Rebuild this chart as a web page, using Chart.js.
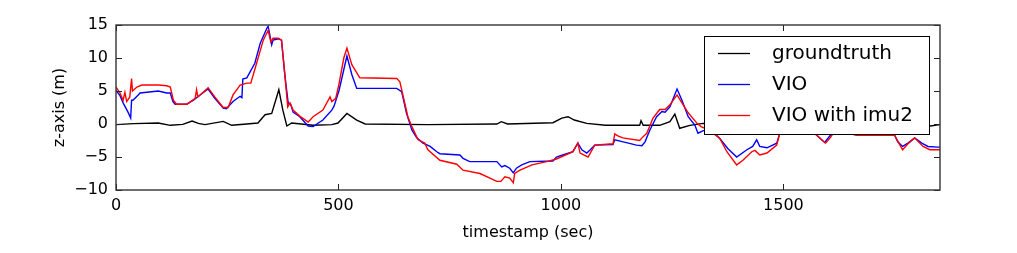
<!DOCTYPE html>
<html>
<head>
<meta charset="utf-8">
<script src="https://cdn.jsdelivr.net/npm/chart.js@4.4.1/dist/chart.umd.min.js"></script>
<style>
  html, body { margin: 0; padding: 0; background: #fff; }
  #plot { display: block; }
</style>
</head>
<body>
<canvas id="plot" width="1017" height="253"></canvas>
<script>
// z-axis traces (time in sec, z in m)
const gtT = [0, 40, 95, 122, 150, 171, 185, 200, 241, 260, 294, 319, 335, 350, 366, 375, 384, 395, 443, 485,
  499, 519, 541, 560, 700, 856, 866, 880, 982, 1002, 1016, 1030, 1058, 1100, 1177, 1180, 1185, 1222, 1245, 1256,
  1267, 1290, 1319, 1400, 1600, 1830, 1852];
const gtZ = [-0.1, 0.05, 0.15, -0.2, -0.05, 0.45, 0.1, -0.1, 0.4, -0.2, 0, 0.15, 1.4, 1.6, 5.2, 2.1, -0.3, 0.15, -0.2, -0.1,
  0.15, 1.6, 0.6, 0, -0.1, 0, 0.35, 0, 0.2, 0.9, 1.1, 0.6, 0.1, -0.2, -0.2, 0.5, -0.2, -0.2, 0.35, 1.5,
  -0.65, -0.2, 0.1, 0, 0, -0.3, -0.1];

const vioT = [0, 9, 16, 27, 33, 35, 38, 50, 54, 95, 114, 122, 128, 133, 159, 174, 189, 207, 222, 241,
  248, 263, 279, 283, 285, 294, 312, 324, 339, 342, 350, 353, 365, 372, 380, 387, 393, 398, 413, 432,
  443, 465, 485, 490, 501, 519, 530, 541, 548, 631, 642, 653, 665, 676, 690, 706, 721, 728, 773, 780,
  795, 856, 867, 874, 885, 893, 900, 912, 930, 982, 990, 1004, 1027, 1038, 1047, 1058, 1066, 1076, 1117, 1121,
  1133, 1170, 1182, 1189, 1200, 1215, 1227, 1234, 1245, 1261, 1272, 1286, 1301, 1308, 1320, 1340, 1357, 1375, 1395, 1418,
  1431, 1440, 1447, 1463, 1485, 1492, 1510, 1540, 1560, 1575, 1586, 1593, 1609, 1630, 1667, 1750, 1757, 1768, 1780, 1795,
  1811, 1825, 1847, 1852];
const vioZ = [5.1, 4.3, 3.2, 1.8, 0.9, 3.6, 3.6, 4.4, 4.7, 5.0, 4.7, 4.7, 3.4, 3.0, 3.0, 3.6, 4.4, 5.3, 3.9, 2.4,
  2.3, 3.4, 4.2, 4.0, 6.8, 7.0, 9.2, 12.2, 14.5, 14.8, 12.0, 12.7, 12.9, 12.7, 7.1, 3.2, 2.9, 1.8, 1.1, -0.3,
  -0.4, 0.6, 2.1, 2.7, 5.0, 10.3, 7.5, 5.4, 5.4, 5.4, 4.9, 1.6, -0.9, -2.1, -2.9, -3.4, -4.2, -4.5, -4.7, -5.2,
  -5.7, -5.7, -6.5, -6.3, -6.7, -7.4, -6.7, -6.2, -5.7, -5.6, -5.0, -4.7, -4.2, -2.9, -3.9, -4.4, -3.9, -3.2, -3.1, -2.4,
  -2.6, -3.2, -3.3, -2.7, -0.9, 1.1, 1.9, 1.8, 2.6, 5.3, 3.6, 1.1, -0.15, -1.4, -1.0, -1.0, -2.2, -3.7, -5.0, -3.9,
  -3.4, -2.4, -3.4, -3.6, -2.9, -1.4, -0.8, -0.5, -0.9, -1.7, -2.4, -2.8, -1.4, -1.2, -1.7, -1.7, -2.7, -3.4, -2.9, -2.1,
  -2.9, -3.4, -3.5, -3.5];

const imuT = [0, 9, 16, 20, 24, 31, 35, 37, 47, 58, 95, 114, 122, 129, 136, 159, 178, 181, 184, 207,
  222, 241, 252, 263, 279, 294, 303, 316, 331, 342, 348, 353, 365, 372, 380, 386, 391, 398, 413, 432,
  443, 465, 481, 485, 494, 501, 512, 519, 530, 548, 631, 638, 656, 665, 679, 694, 701, 728, 766, 780,
  818, 856, 865, 874, 885, 893, 896, 908, 935, 968, 990, 1027, 1038, 1043, 1061, 1076, 1117, 1121, 1128, 1139,
  1177, 1182, 1193, 1207, 1222, 1234, 1245, 1261, 1272, 1286, 1306, 1315, 1335, 1357, 1373, 1395, 1409, 1429, 1436, 1447,
  1463, 1485, 1492, 1510, 1540, 1560, 1575, 1586, 1595, 1605, 1612, 1630, 1667, 1750, 1762, 1768, 1780, 1795, 1814, 1829,
  1847, 1852];
const imuZ = [5.6, 4.7, 3.6, 4.8, 3.4, 4.1, 6.9, 5.0, 5.6, 5.9, 5.9, 5.8, 5.6, 3.6, 3.0, 3.0, 3.9, 5.2, 4.1, 5.5,
  4.1, 2.5, 2.5, 4.4, 5.9, 6.2, 6.2, 9.2, 12.7, 14.2, 12.4, 13.0, 13.0, 12.7, 7.1, 2.6, 3.2, 2.1, 1.2, 0.3,
  1.1, 2.1, 4.1, 3.4, 3.9, 6.0, 10.0, 11.5, 9.0, 7.0, 6.9, 6.4, 1.1, -0.4, -2.4, -2.9, -3.9, -5.5, -6.1, -7.0,
  -7.5, -8.7, -8.7, -8.0, -8.2, -8.9, -7.5, -7.0, -6.2, -5.7, -5.3, -4.2, -2.9, -4.4, -5.0, -3.2, -3.0, -1.5, -1.8, -2.1,
  -2.5, -2.1, -1.4, 0.9, 2.2, 2.2, 2.9, 4.4, 3.2, 1.7, 0.1, -0.4, -1.0, -2.2, -4.2, -6.2, -5.5, -4.2, -4.0, -4.7,
  -4.4, -3.2, -1.4, -0.8, -0.5, -0.9, -1.7, -2.4, -2.9, -2.1, -1.4, -1.2, -1.7, -1.7, -3.2, -3.9, -3.0, -2.1, -3.4, -3.9,
  -3.9, -3.9];

const labels = ['groundtruth', 'VIO', 'VIO with imu2'];
const xTicks = [0, 500, 1000, 1500];
const yTicks = [-10, -5, 0, 5, 10, 15];

const pts = (t, z) => t.map((x, i) => ({ x, y: z[i] }));

Chart.defaults.font.family = "'DejaVu Sans', sans-serif";
Chart.defaults.color = '#000';

// matplotlib-ish frame with inward ticks on all four sides
const frame = {
  id: 'frame',
  afterDatasetsDraw(chart) {
    const { ctx, chartArea: a, scales: { x, y } } = chart;
    ctx.save();
    ctx.strokeStyle = '#222';
    ctx.lineWidth = 1;
    ctx.beginPath();
    xTicks.forEach(v => {
      const px = Math.round(x.getPixelForValue(v)) + 0.5;
      ctx.moveTo(px, a.bottom); ctx.lineTo(px, a.bottom - 6);
      ctx.moveTo(px, a.top); ctx.lineTo(px, a.top + 6);
    });
    yTicks.forEach(v => {
      const py = Math.round(y.getPixelForValue(v)) + 0.5;
      ctx.moveTo(a.left, py); ctx.lineTo(a.left + 6, py);
      ctx.moveTo(a.right, py); ctx.lineTo(a.right - 6, py);
    });
    ctx.stroke();
    ctx.lineWidth = 1.4;
    ctx.strokeStyle = '#333';
    ctx.strokeRect(a.left, a.top, a.right - a.left, a.bottom - a.top);
    ctx.restore();
  }
};

// legend box in the upper right, like the original
const legendBox = {
  id: 'legendBox',
  afterDraw(chart) {
    const { ctx } = chart;
    const bx = 704.5, by = 36.5, bw = 225, bh = 98;
    ctx.save();
    ctx.fillStyle = '#fff';
    ctx.fillRect(bx, by, bw, bh);
    ctx.strokeStyle = '#000';
    ctx.lineWidth = 1;
    ctx.strokeRect(bx, by, bw, bh);
    ctx.font = "20px 'DejaVu Sans'";
    ctx.textBaseline = 'middle';
    chart.data.datasets.forEach((ds, i) => {
      const ry = 53 + i * 31;
      ctx.strokeStyle = ds.borderColor;
      ctx.lineWidth = 1.3;
      ctx.beginPath();
      ctx.moveTo(718, ry + 0.5);
      ctx.lineTo(750, ry + 0.5);
      ctx.stroke();
      ctx.fillStyle = '#000';
      ctx.fillText(ds.label, 772, ry + 1);
    });
    ctx.restore();
  }
};

new Chart(document.getElementById('plot'), {
  type: 'line',
  data: {
    datasets: [
      { label: labels[0], data: pts(gtT, gtZ), borderColor: '#000000', borderWidth: 1.4, pointRadius: 0, tension: 0, order: 3 },
      { label: labels[1], data: pts(vioT, vioZ), borderColor: '#0000ff', borderWidth: 1.4, pointRadius: 0, tension: 0, order: 2 },
      { label: labels[2], data: pts(imuT, imuZ), borderColor: '#ff0000', borderWidth: 1.4, pointRadius: 0, tension: 0, order: 1 }
    ]
  },
  options: {
    responsive: false,
    devicePixelRatio: 1,
    animation: false,
    layout: { padding: { top: 25, right: 77, left: 0, bottom: 0 } },
    plugins: { legend: { display: false }, tooltip: { enabled: false } },
    scales: {
      x: {
        type: 'linear',
        min: 0,
        max: 1852,
        grid: { display: false, drawTicks: false, tickLength: 0 },
        border: { display: false },
        ticks: { stepSize: 500, font: { size: 16 }, color: '#000', padding: 6, maxRotation: 0,
          callback: v => String(v) },
        afterBuildTicks: s => { s.ticks = xTicks.map(v => ({ value: v })); },
        afterFit: s => { s.height = 63; },
        title: { display: true, text: 'timestamp (sec)', font: { size: 16 }, color: '#000', padding: { top: 0, bottom: 11 } }
      },
      y: {
        min: -10,
        max: 15,
        grid: { display: false, drawTicks: false, tickLength: 0 },
        border: { display: false },
        ticks: { stepSize: 5, font: { size: 16 }, color: '#000', padding: 8,
          callback: v => String(v).replace('-', '\u2212') },
        afterBuildTicks: s => { s.ticks = yTicks.map(v => ({ value: v })); },
        afterFit: s => { s.width = 116; },
        title: { display: true, text: 'z-axis (m)', font: { size: 16 }, color: '#000', padding: { top: 50, bottom: 0 } }
      }
    }
  },
  plugins: [frame, legendBox]
});
</script>
</body>
</html>
